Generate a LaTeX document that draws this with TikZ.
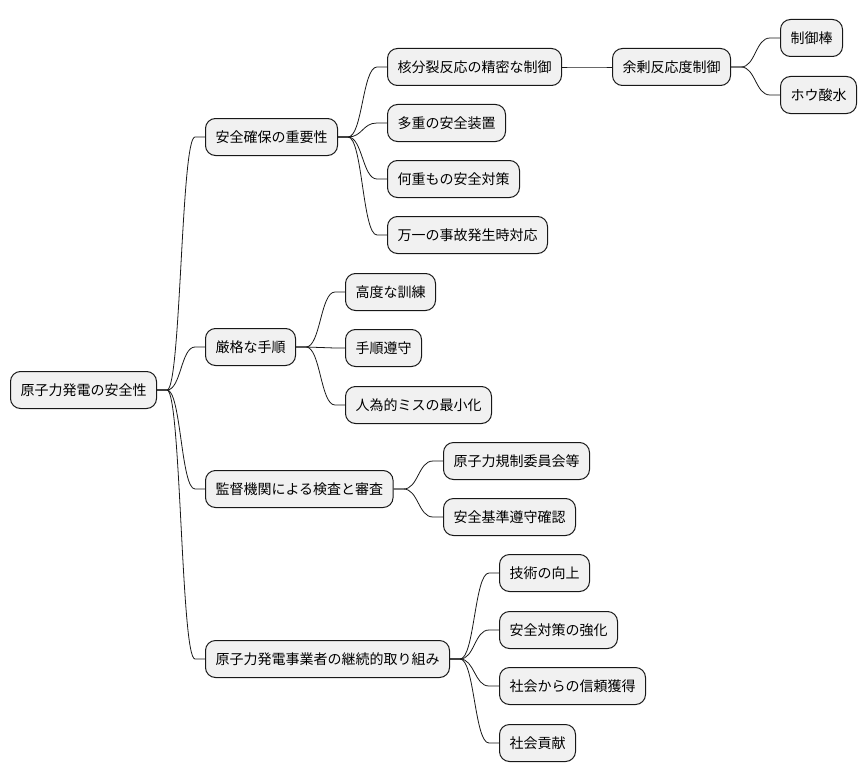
\documentclass[tikz,border=0pt]{standalone}
\usepackage{fontspec}
\newfontfamily\cjk{Noto Sans CJK JP}
\usetikzlibrary{calc}
\definecolor{boxfill}{HTML}{F1F1F1}
\definecolor{boxline}{HTML}{181818}
\tikzset{
  mmnode/.style={draw=boxline, fill=boxfill, line width=1pt, rounded corners=10pt,
    minimum height=37pt, inner xsep=10pt, inner ysep=0pt, anchor=west,
    font=\cjk\fontsize{14}{16}\selectfont, text=black},
  link/.style={draw=boxline, line width=0.8pt}
}
\newcommand\mmlink[2]{%
  \path (#1.east) ++(10,0) coordinate (tmpA);
  \path (#2.west) ++(-10,0) coordinate (tmpB);
  \draw[link] (#1.east) -- (tmpA) .. controls ($(tmpA)!0.5!(tmpB|-tmpA)$) and ($(tmpB)!0.5!(tmpA|-tmpB)$) .. (tmpB) -- (#2.west);
}
\begin{document}
\begin{tikzpicture}[x=1pt,y=-1pt]
\useasboundingbox (0,0) rectangle (866,781);
\node[mmnode] (root) at (10,390) {原子力発電の安全性};
\node[mmnode] (a) at (205,137) {安全確保の重要性};
\node[mmnode] (b) at (205,347) {厳格な手順};
\node[mmnode] (c) at (205,489) {監督機関による検査と審査};
\node[mmnode] (d) at (205,659) {原子力発電事業者の継続的取り組み};
\node[mmnode] (a1) at (387,67) {核分裂反応の精密な制御};
\node[mmnode] (a2) at (387,123) {多重の安全装置};
\node[mmnode] (a3) at (387,179) {何重もの安全対策};
\node[mmnode] (a4) at (387,235) {万一の事故発生時対応};
\node[mmnode] (a11) at (612,67) {余剰反応度制御};
\node[mmnode] (a111) at (780,38) {制御棒};
\node[mmnode] (a112) at (780,95) {ホウ酸水};
\node[mmnode] (b1) at (345,292) {高度な訓練};
\node[mmnode] (b2) at (345,348) {手順遵守};
\node[mmnode] (b3) at (345,405) {人為的ミスの最小化};
\node[mmnode] (c1) at (443,461) {原子力規制委員会等};
\node[mmnode] (c2) at (443,517) {安全基準遵守確認};
\node[mmnode] (d1) at (499,573) {技術の向上};
\node[mmnode] (d2) at (499,630) {安全対策の強化};
\node[mmnode] (d3) at (499,686) {社会からの信頼獲得};
\node[mmnode] (d4) at (499,743) {社会貢献};
\mmlink{root}{a}\mmlink{root}{b}\mmlink{root}{c}\mmlink{root}{d}
\mmlink{a}{a1}\mmlink{a}{a2}\mmlink{a}{a3}\mmlink{a}{a4}
\mmlink{a1}{a11}\mmlink{a11}{a111}\mmlink{a11}{a112}
\mmlink{b}{b1}\mmlink{b}{b2}\mmlink{b}{b3}
\mmlink{c}{c1}\mmlink{c}{c2}
\mmlink{d}{d1}\mmlink{d}{d2}\mmlink{d}{d3}\mmlink{d}{d4}
\end{tikzpicture}
\end{document}
